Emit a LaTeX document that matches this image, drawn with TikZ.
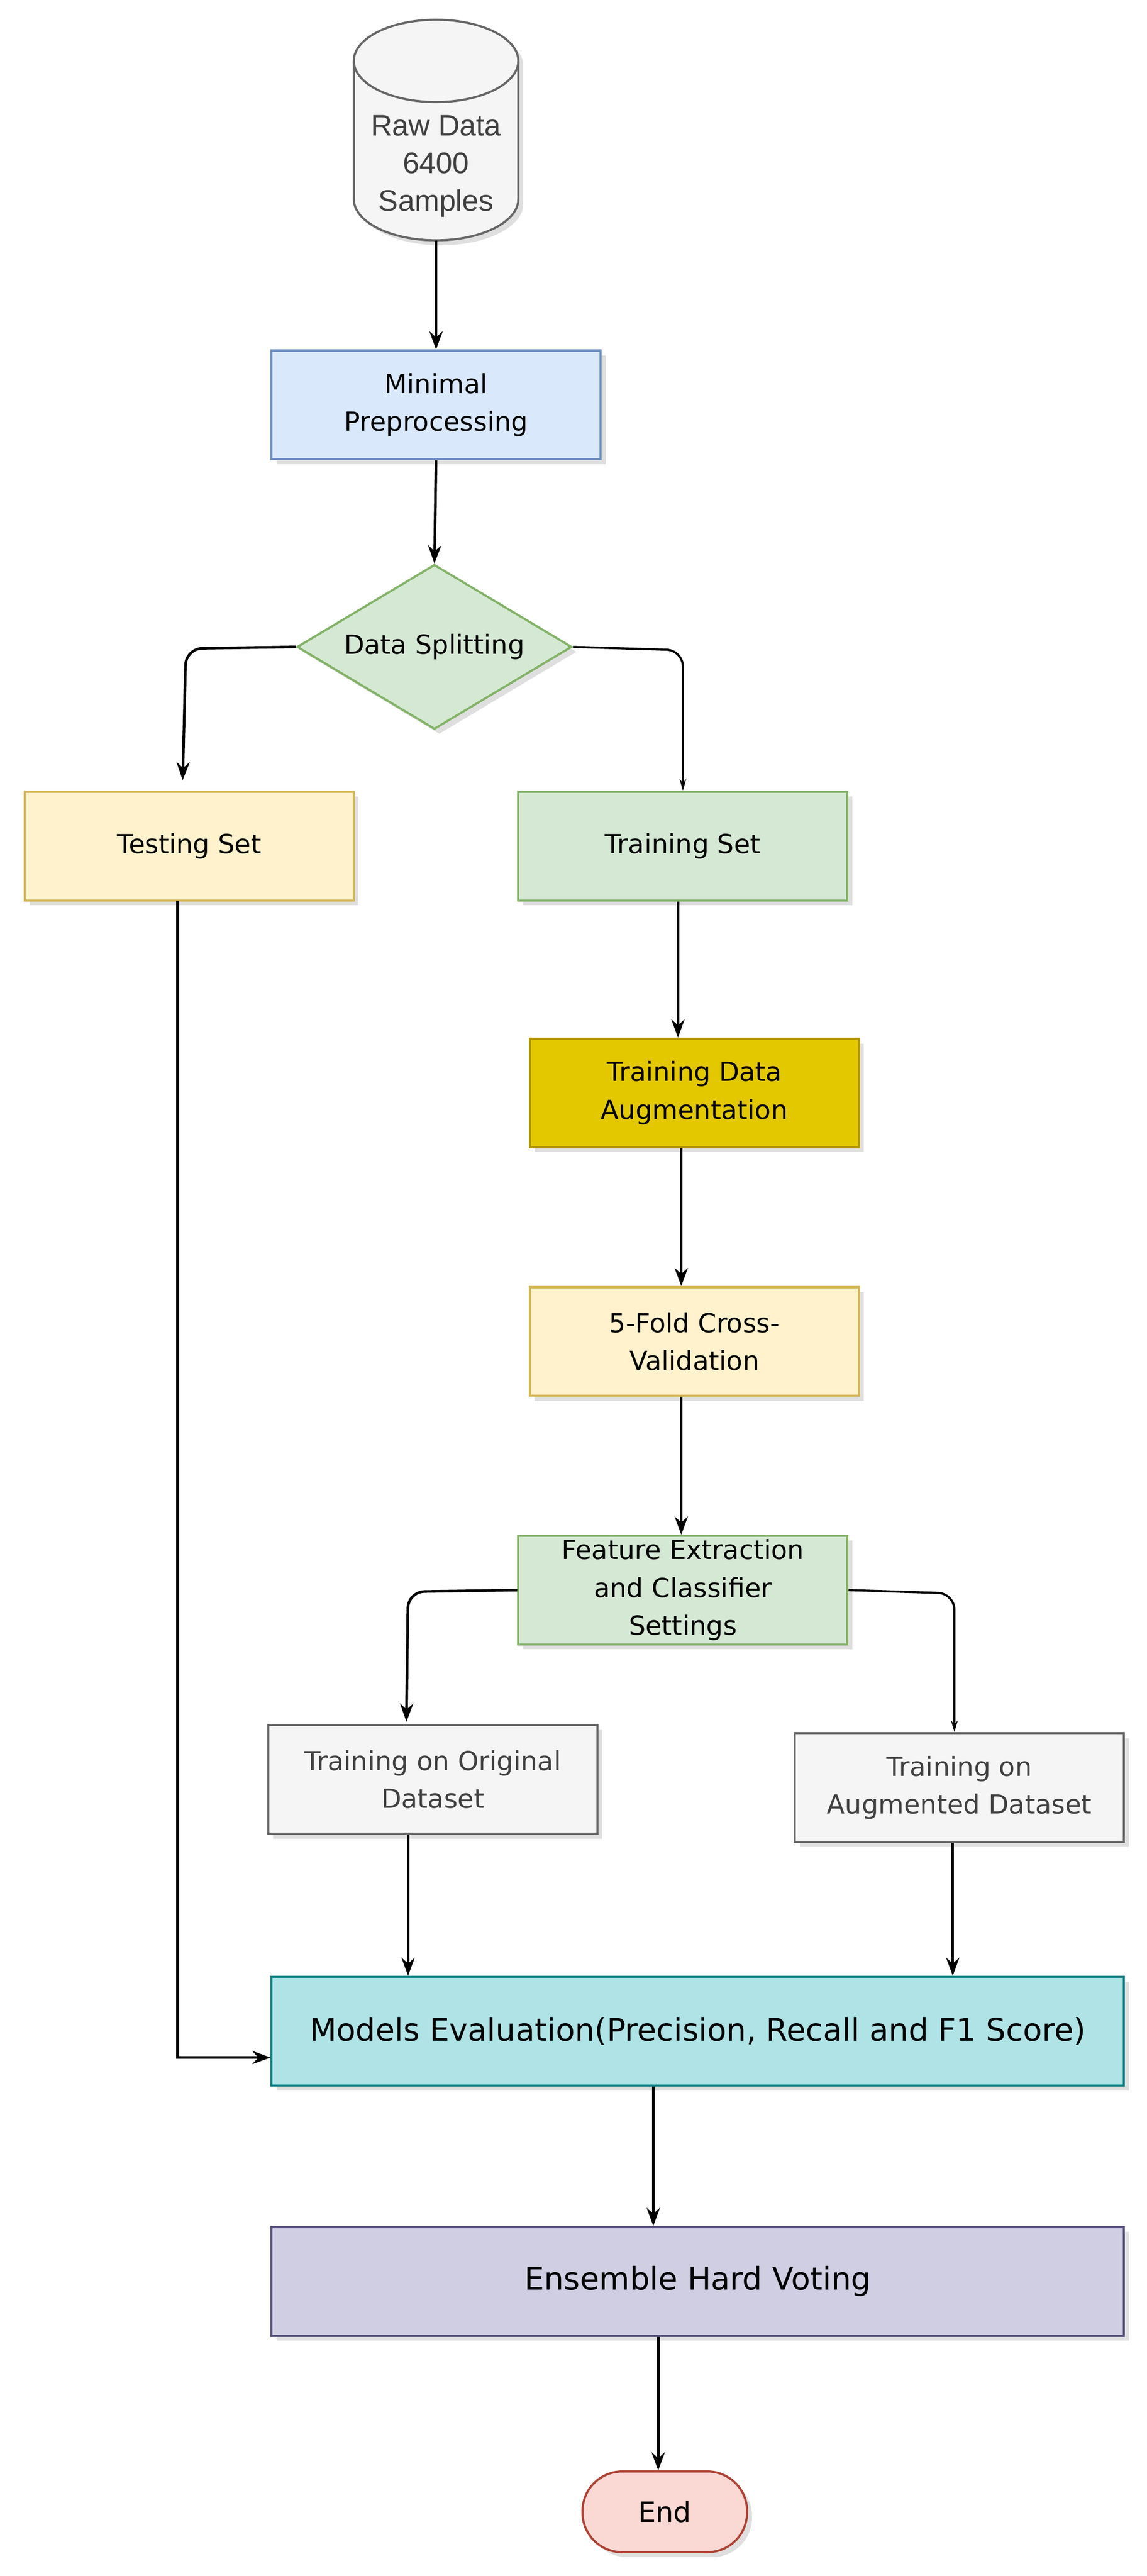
\documentclass[tikz,border=0pt]{standalone}
\usepackage{fontspec}
\setmainfont{DejaVu Sans}
\newfontfamily\cylfont{Liberation Sans}
\usetikzlibrary{arrows.meta,shadows,shapes.geometric}
\definecolor{bluef}{HTML}{DAE8FC}\definecolor{bluel}{HTML}{6C8EBF}
\definecolor{greenf}{HTML}{D5E8D4}\definecolor{greenl}{HTML}{82B366}
\definecolor{yelf}{HTML}{FFF2CC}\definecolor{yell}{HTML}{D6B656}
\definecolor{goldf}{HTML}{E3C800}\definecolor{goldl}{HTML}{B09500}
\definecolor{grayf}{HTML}{F5F5F5}\definecolor{grayl}{HTML}{666666}
\definecolor{tealf}{HTML}{B0E3E6}\definecolor{teall}{HTML}{0E8088}
\definecolor{purf}{HTML}{D0CEE2}\definecolor{purl}{HTML}{56517E}
\definecolor{redf}{HTML}{FAD9D5}\definecolor{redl}{HTML}{AE4132}
\begin{document}
\begin{tikzpicture}[x=1pt,y=1pt,
  box/.style={draw,line width=1.3pt,minimum width=200pt,minimum height=66pt,inner sep=0pt,align=center,font=\fontsize{16}{23}\selectfont,drop shadow={opacity=0.25,shadow xshift=3pt,shadow yshift=-3pt}},
  wide/.style={box,minimum width=518pt,font=\fontsize{19}{24}\selectfont},
  arr/.style={line width=1.6pt,-{Stealth[length=11pt,width=8pt]},rounded corners=10pt},
  sarr/.style={line width=1.3pt,-{Stealth[length=7pt,width=4pt]},rounded corners=10pt}]
\useasboundingbox (0,0) rectangle (697,-1565);
% cylinder
\path[fill=grayf,draw=grayl,line width=1.3pt,drop shadow={opacity=0.25,shadow xshift=3pt,shadow yshift=-3pt}] (215,-37) -- (215,-121) arc[start angle=180,end angle=360,x radius=50pt,y radius=25pt] -- (315,-37) arc[start angle=0,end angle=180,x radius=50pt,y radius=25pt] -- cycle;
\draw[grayl,line width=1.3pt] (215,-37) arc[start angle=180,end angle=360,x radius=50pt,y radius=25pt];
\node[minimum width=100pt,minimum height=134pt,inner sep=0pt] (raw) at (265,-79) {};
\node[align=center,text=black!75,font=\cylfont\fontsize{18}{23}\selectfont] (rawt) at (265,-101) {Raw Data\\6400\\Samples};
\node[box,fill=bluef,draw=bluel] (pre) at (265,-246) {Minimal\\Preprocessing};
\node[draw=greenl,fill=greenf,line width=1.3pt,diamond,aspect=1.67,minimum width=167pt,minimum height=100pt,inner sep=0pt,font=\fontsize{16}{20}\selectfont,drop shadow={opacity=0.25,shadow xshift=3pt,shadow yshift=-3pt}] (split) at (264,-393) {Data Splitting};
\node[box,fill=yelf,draw=yell] (test) at (115,-514) {Testing Set};
\node[box,fill=greenf,draw=greenl] (train) at (415,-514) {Training Set};
\node[box,fill=goldf,draw=goldl] (aug) at (422,-664) {Training Data\\Augmentation};
\node[box,fill=yelf,draw=yell] (cv) at (422,-815) {5-Fold Cross-\\Validation};
\node[box,fill=greenf,draw=greenl] (feat) at (415,-966) {Feature Extraction\\and Classifier\\Settings};
\node[box,fill=grayf,draw=grayl,text=black!75] (orig) at (263,-1081) {Training on Original\\Dataset};
\node[box,fill=grayf,draw=grayl,text=black!75] (augd) at (583,-1086) {Training on\\Augmented Dataset};
\node[wide,fill=tealf,draw=teall] (eval) at (424,-1234) {Models Evaluation(Precision, Recall and F1 Score)};
\node[wide,fill=purf,draw=purl] (ens) at (424,-1386) {Ensemble Hard Voting};
\node[draw=redl,fill=redf,line width=1.3pt,rounded corners=24pt,minimum width=100pt,minimum height=49pt,font=\fontsize{17}{20}\selectfont,drop shadow={opacity=0.25,shadow xshift=3pt,shadow yshift=-3pt}] (end) at (404,-1526) {End};
\coordinate (tl) at (111,-474);
% connectors
\draw[arr] (raw.south) -- (pre.north);
\draw[arr] (pre.south) -- (split.north);
\draw[arr] (split.west) -- (113,-394) -- (tl);
\draw[sarr] (split.east) -- (415,-395) -- (train.north);
\draw[arr,rounded corners=0pt] (108,-547) -- (108,-1250) -- (eval.west |- 0,-1250);
\draw[arr] (train.south -| 412,0) -- (aug.north -| 412,0);
\draw[arr] (aug.south -| 414,0) -- (cv.north -| 414,0);
\draw[arr] (cv.south -| 414,0) -- (feat.north -| 414,0);
\draw[arr] (feat.west) -- (248,-967) -- (247,-1046);
\draw[sarr] (feat.east) -- (580,-968) -- (augd.north -| 580,0);
\draw[arr] (orig.south -| 248,0) -- (eval.north -| 248,0);
\draw[arr] (augd.south -| 579,0) -- (eval.north -| 579,0);
\draw[arr] (eval.south -| 397,0) -- (ens.north -| 397,0);
\draw[arr] (ens.south -| 400,0) -- (end.north -| 400,0);
\end{tikzpicture}
\end{document}
